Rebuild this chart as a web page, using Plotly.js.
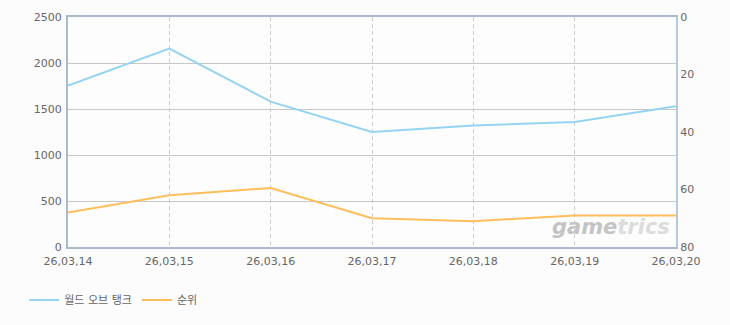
<!DOCTYPE html>
<html><head><meta charset="utf-8">
<script src="https://cdn.plot.ly/plotly-3.0.1.min.js"></script>
<style>html,body{margin:0;padding:0;background:#fcfcfc;}#chart{width:730px;height:325px;}</style>
</head><body><div id="chart"></div>
<script>
const dates = ["26,03,14","26,03,15","26,03,16","26,03,17","26,03,18","26,03,19","26,03,20"];
const users = [1756, 2157, 1580, 1250, 1320, 1360, 1530];
const rank = [68, 62, 59.5, 70, 71, 69, 69];
const seriesNames = ["월드 오브 탱크", "순위"];
const leftTicks = [0, 500, 1000, 1500, 2000, 2500];
const rightTicks = [0, 20, 40, 60, 80];

const font = "DejaVu Sans, Noto Sans CJK KR, sans-serif";
const data = [
  {x: dates, y: users, name: seriesNames[0], type: 'scatter', mode: 'lines',
   line: {color: '#95d3f2', width: 2}, yaxis: 'y'},
  {x: dates, y: rank, name: seriesNames[1], type: 'scatter', mode: 'lines',
   line: {color: '#ffbe5c', width: 2}, yaxis: 'y2'}
];
const layout = {
  width: 730, height: 325,
  margin: {l: 68, r: 54, t: 17, b: 77},
  paper_bgcolor: '#fcfcfc', plot_bgcolor: '#fdfdfd',
  font: {family: font, size: 11, color: '#666'},
  showlegend: true,
  legend: {orientation: 'h', x: -0.072, xanchor: 'left', y: -0.225, yanchor: 'middle',
           font: {family: font, size: 11, color: '#666'}, bgcolor: 'rgba(0,0,0,0)'},
  xaxis: {type: 'category', range: [0, 6], showgrid: true, gridcolor: '#cccccc', griddash: '4px,3px',
          gridwidth: 1, showline: true, linecolor: '#a9bace', linewidth: 2, mirror: true,
          ticks: '', tickfont: {size: 11, color: '#666'}, zeroline: false, ticklabelstandoff: 3},
  yaxis: {range: [0, 2500], tickvals: leftTicks, showgrid: true, gridcolor: '#c8c8c8', gridwidth: 1,
          showline: true, linecolor: '#a9bace', linewidth: 2, ticks: '', zeroline: false,
          tickfont: {size: 11, color: '#666'}, ticklabelstandoff: 2},
  yaxis2: {overlaying: 'y', side: 'right', range: [80, 0], tickvals: rightTicks, showgrid: false,
           showline: true, linecolor: '#b9c8d9', linewidth: 2, ticks: '', zeroline: false,
           tickfont: {size: 11, color: '#666'}},
  annotations: [{xref: 'paper', yref: 'paper', x: 0.893, y: 0.087,
                 text: "<b><i><span style='color:#c4c4c4'>game</span><span style='color:#dcdcdc'>trics</span></i></b>",
                 showarrow: false, font: {family: font, size: 21, color: '#d2d2d2'},
                 xanchor: 'center', yanchor: 'middle'}]
};
Plotly.newPlot('chart', data, layout, {displayModeBar: false, staticPlot: true});
</script></body></html>
